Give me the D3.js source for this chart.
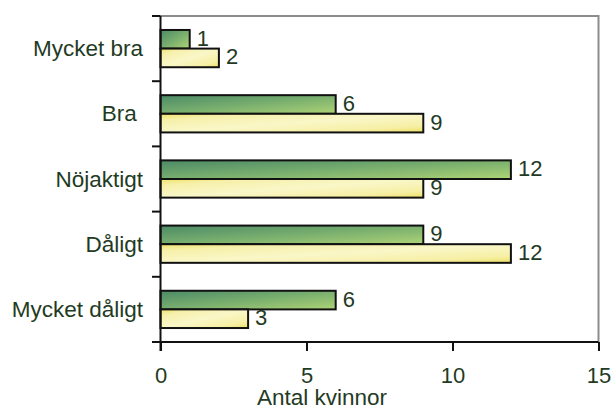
<!DOCTYPE html>
<html>
<head>
<meta charset="utf-8">
<script src="https://cdn.jsdelivr.net/npm/d3@7"></script>
<style>
  html, body { margin: 0; padding: 0; background: #fff; }
  svg { display: block; }
  text { font-family: "Liberation Sans", Arial, sans-serif; fill: #1f3b24; }
</style>
</head>
<body>
<svg id="chart" width="612" height="405"></svg>
<script>
// Ratings, top to bottom
const categories = ["Mycket bra", "Bra ", "Nöjaktigt", "Dåligt", "Mycket dåligt"];
// Two groups of women per rating (green bar on top, yellow below)
const greenValues = [1, 6, 12, 9, 6];
const yellowValues = [2, 9, 9, 12, 3];
const xTicks = [0, 5, 10, 15];
const xTitle = "Antal kvinnor";

const svg = d3.select("#chart");
const plotLeft = 160.5, plotRight = 598.5, plotTop = 16, plotBottom = 342;
const numSize = 22, wordSize = 22.5;

const x = d3.scaleLinear().domain([0, 15]).range([plotLeft, plotRight]);
const y = d3.scaleBand().domain(categories).range([plotTop, plotBottom]).padding(0);
const sub = d3.scaleBand().domain(["green", "yellow"])
  .range([0, y.bandwidth()]).paddingInner(0).paddingOuter(0.75);

const defs = svg.append("defs");
const gGreen = defs.append("linearGradient").attr("id", "gradGreen")
  .attr("x1", 0).attr("y1", 0).attr("x2", 1).attr("y2", 1);
[[0, "#4c8a67"], [0.5, "#78ae6e"], [1, "#aed476"]].forEach(([o, c]) =>
  gGreen.append("stop").attr("offset", o).attr("stop-color", c));
const gYellow = defs.append("linearGradient").attr("id", "gradYellow")
  .attr("x1", 0).attr("y1", 0).attr("x2", 1).attr("y2", 1);
[[0, "#eee26a"], [0.18, "#f6f0aa"], [0.5, "#faf7c8"], [0.82, "#f6efa4"], [1, "#eee064"]].forEach(([o, c]) =>
  gYellow.append("stop").attr("offset", o).attr("stop-color", c));

// Plot frame: grey top and right edges
svg.append("path")
  .attr("d", `M${plotLeft},${plotTop}H${plotRight}V${plotBottom}`)
  .attr("fill", "none").attr("stroke", "#8c8c8c").attr("stroke-width", 2);

const rows = categories.map((c, i) => ({ c, green: greenValues[i], yellow: yellowValues[i] }));

const series = [
  { key: "green", fill: "url(#gradGreen)" },
  { key: "yellow", fill: "url(#gradYellow)" }
];

series.forEach(s => {
  svg.append("g").selectAll("rect").data(rows).join("rect")
    .attr("x", x(0))
    .attr("y", d => y(d.c) + sub(s.key))
    .attr("width", d => x(d[s.key]) - x(0))
    .attr("height", sub.bandwidth())
    .attr("fill", s.fill)
    .attr("stroke", "#111")
    .attr("stroke-width", 2);

  svg.append("g").selectAll("text").data(rows).join("text")
    .attr("x", d => x(d[s.key]) + 7)
    .attr("y", d => y(d.c) + sub(s.key) + sub.bandwidth() / 2 + 6.5)
    .attr("font-size", numSize)
    .text(d => d[s.key]);
});

// Bottom axis
const xAxis = svg.append("g").attr("transform", `translate(0,${plotBottom})`)
  .call(d3.axisBottom(x).tickValues(xTicks).tickSize(9).tickPadding(16).tickFormat(d3.format("d")));
xAxis.select(".domain").attr("d", `M${plotLeft - 8.5},0H${plotRight}`).attr("stroke", "#111").attr("stroke-width", 2);
xAxis.selectAll(".tick line").attr("stroke", "#111").attr("stroke-width", 2);
xAxis.selectAll(".tick text").attr("font-size", numSize).attr("font-family", null).attr("fill", null);

// Left axis with ticks between categories
const yAxis = svg.append("g").attr("transform", `translate(${plotLeft},0)`);
yAxis.append("line").attr("x1", 0).attr("x2", 0).attr("y1", plotTop).attr("y2", plotBottom + 9)
  .attr("stroke", "#111").attr("stroke-width", 2);
const boundaries = categories.map(c => y(c)).concat([plotBottom]);
yAxis.selectAll(".bt").data(boundaries).join("line")
  .attr("x1", -8.5).attr("x2", 0).attr("y1", d => d).attr("y2", d => d)
  .attr("stroke", "#111").attr("stroke-width", 2);
yAxis.selectAll(".cat").data(categories).join("text")
  .attr("x", -17.5)
  .attr("y", d => y(d) + y.bandwidth() / 2 + 7.5)
  .attr("text-anchor", "end")
  .attr("font-size", wordSize)
  .style("white-space", "pre")
  .text(d => d);

// Axis title
svg.append("text").attr("x", 322).attr("y", 405)
  .attr("text-anchor", "middle").attr("font-size", wordSize).text(xTitle);
</script>
</body>
</html>
